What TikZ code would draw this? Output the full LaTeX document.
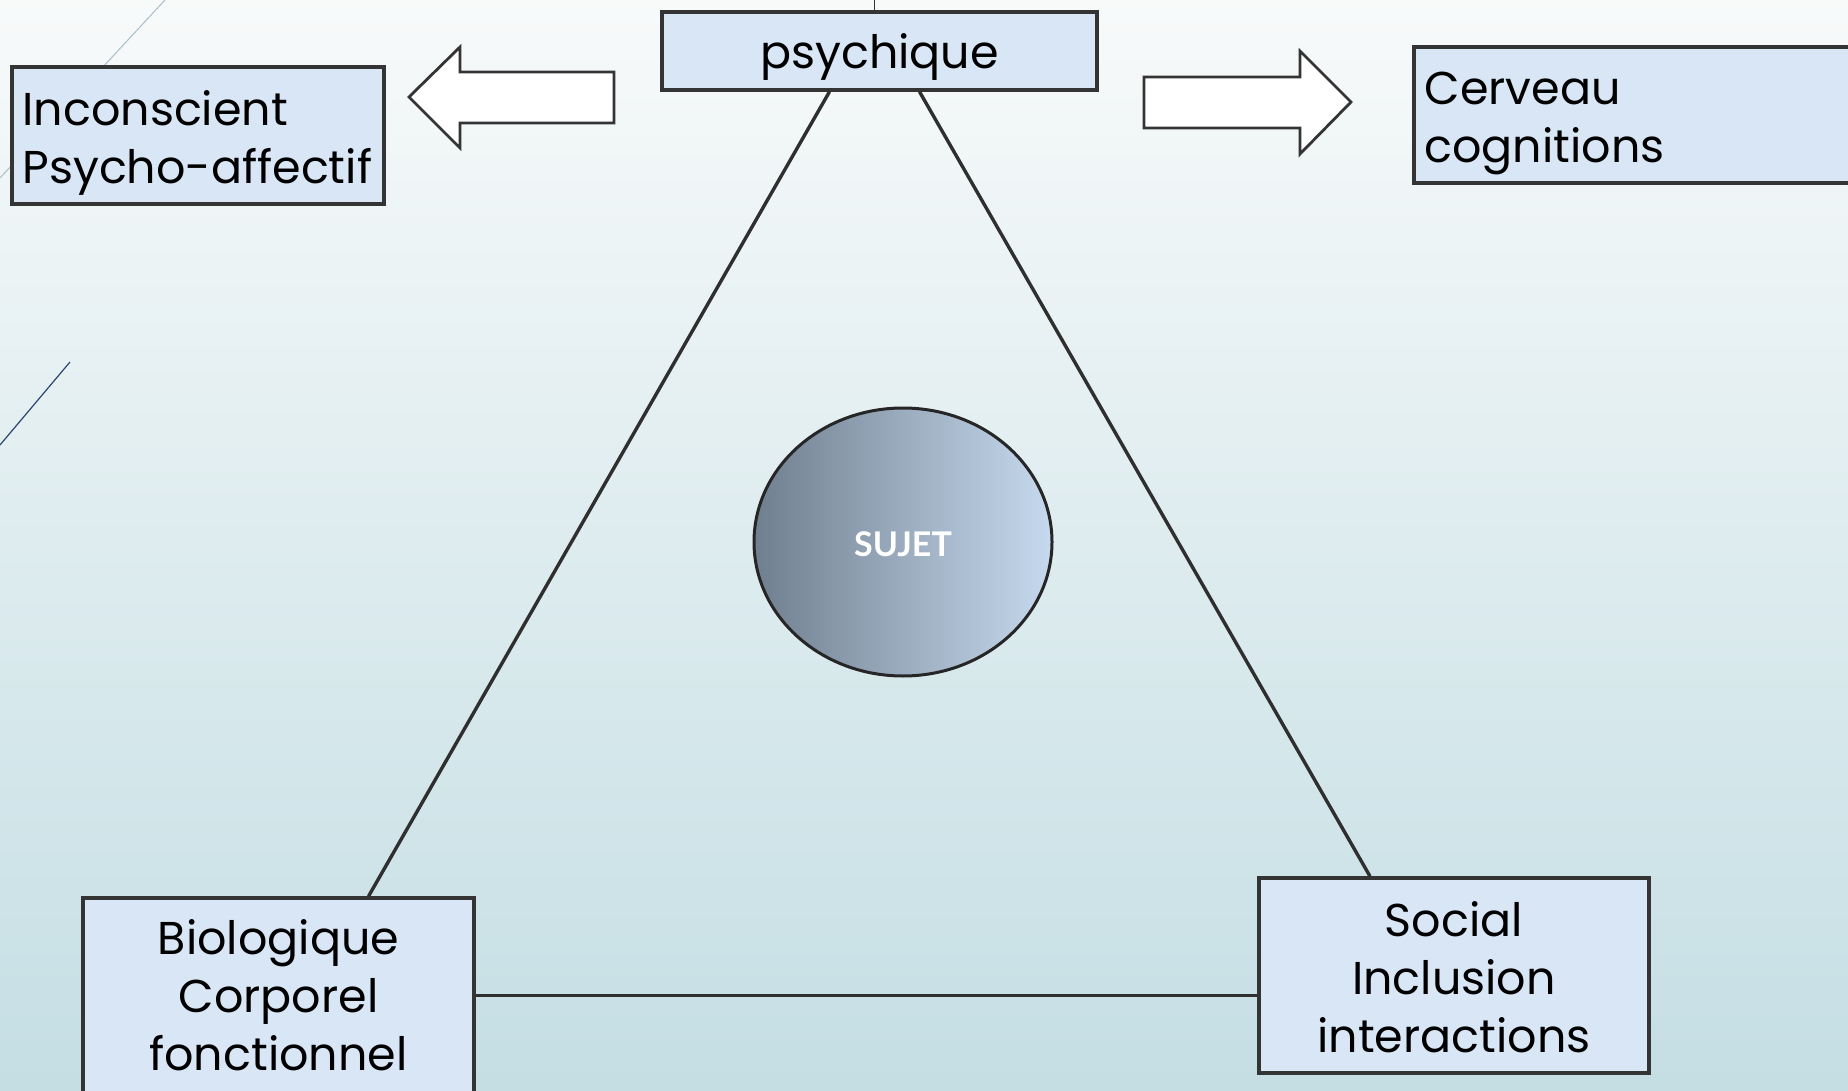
\documentclass[tikz,border=0pt]{standalone}
\usepackage{fontspec}
\setmainfont{Poppins}
\newfontfamily\labelfont{Lato}
\usetikzlibrary{shadows,shapes.geometric}
\definecolor{bgtop}{RGB}{248,250,250}
\definecolor{bgbot}{RGB}{196,222,228}
\definecolor{boxfill}{RGB}{216,230,245}
\definecolor{edge}{RGB}{52,52,52}
\definecolor{ballL}{RGB}{112,127,143}
\definecolor{ballR}{RGB}{198,217,238}
\definecolor{streakA}{RGB}{170,190,200}
\definecolor{streakB}{RGB}{40,70,110}
\begin{document}
\begin{tikzpicture}[x=1pt,y=-1pt,
  pole/.style={draw=edge,line width=3.4pt,fill=boxfill,inner sep=0pt,
    drop shadow={shadow xshift=2pt,shadow yshift=-2pt,opacity=0.35}},
  poletext/.style={inner sep=0pt,font=\fontsize{46}{58}\selectfont},
  side/.style={line width=3.4pt,draw=edge!90!black},
  blockarrow/.style={draw=edge,fill=white,line width=2.8pt,line join=miter}]
% backdrop
\shade[top color=bgtop,bottom color=bgbot] (0,0) rectangle (1848,1091);
\useasboundingbox (0,0) rectangle (1848,1091);
\draw[streakA,line width=1pt] (165,0) -- (0,178);
\draw[streakB,line width=1.2pt] (70,362) -- (0,445);
\draw[edge,line width=1pt] (874,0) -- (874,12);

% the three poles of the triangle
\node[pole,minimum width=435pt,minimum height=78pt] (psy) at (879.5,51) {};
\node[pole,minimum width=391pt,minimum height=195pt] (bio) at (278.5,995.5) {};
\node[pole,minimum width=390pt,minimum height=195pt] (soc) at (1454,975.5) {};
% side boxes
\node[pole,minimum width=372pt,minimum height=137pt] (inc) at (198,135.5) {};
\node[pole,minimum width=446pt,minimum height=136pt] (cer) at (1637,115) {};

% labels
\node[poletext] (psyT) at ([yshift=-6pt]psy.center) {psychique};
\node[poletext,align=center] (bioT) at (bio.center) {Biologique\\Corporel\\fonctionnel};
\node[poletext,align=center] (socT) at ([yshift=-2pt]soc.center) {Social\\Inclusion\\interactions};
\node[poletext,align=left,anchor=west] (incT) at ([xshift=12pt,yshift=-7pt]inc.west) {Inconscient\\Psycho-affectif};
\node[poletext,align=left,anchor=west] (cerT) at ([xshift=12pt,yshift=-8pt]cer.west) {Cerveau\\cognitions};

% triangle sides
\draw[side] ([xshift=-50pt]psy.south) -- ([xshift=90pt]bio.north);
\draw[side] ([xshift=40pt]psy.south) -- ([xshift=-84pt]soc.north);
\draw[side] (bio.east) -- (soc.west |- bio.east);

% centre
\node[draw=black!85,line width=3pt,ellipse,inner sep=0pt,minimum width=298pt,minimum height=268pt,
  left color=ballL,right color=ballR] (suj) at (903,542) {};
\node[text=white,inner sep=0pt,font=\labelfont\bfseries\fontsize{34}{40}\selectfont]
  (sujT) at ([yshift=-2pt]suj.center) {SUJET};

% block arrows
\draw[blockarrow] (409,97) -- (460,47) -- (460,72) -- (614,72) -- (614,123)
  -- (460,123) -- (460,148) -- cycle;
\draw[blockarrow] (1351,102) -- (1300,51) -- (1300,77) -- (1144,77) -- (1144,128)
  -- (1300,128) -- (1300,154) -- cycle;
\end{tikzpicture}
\end{document}
